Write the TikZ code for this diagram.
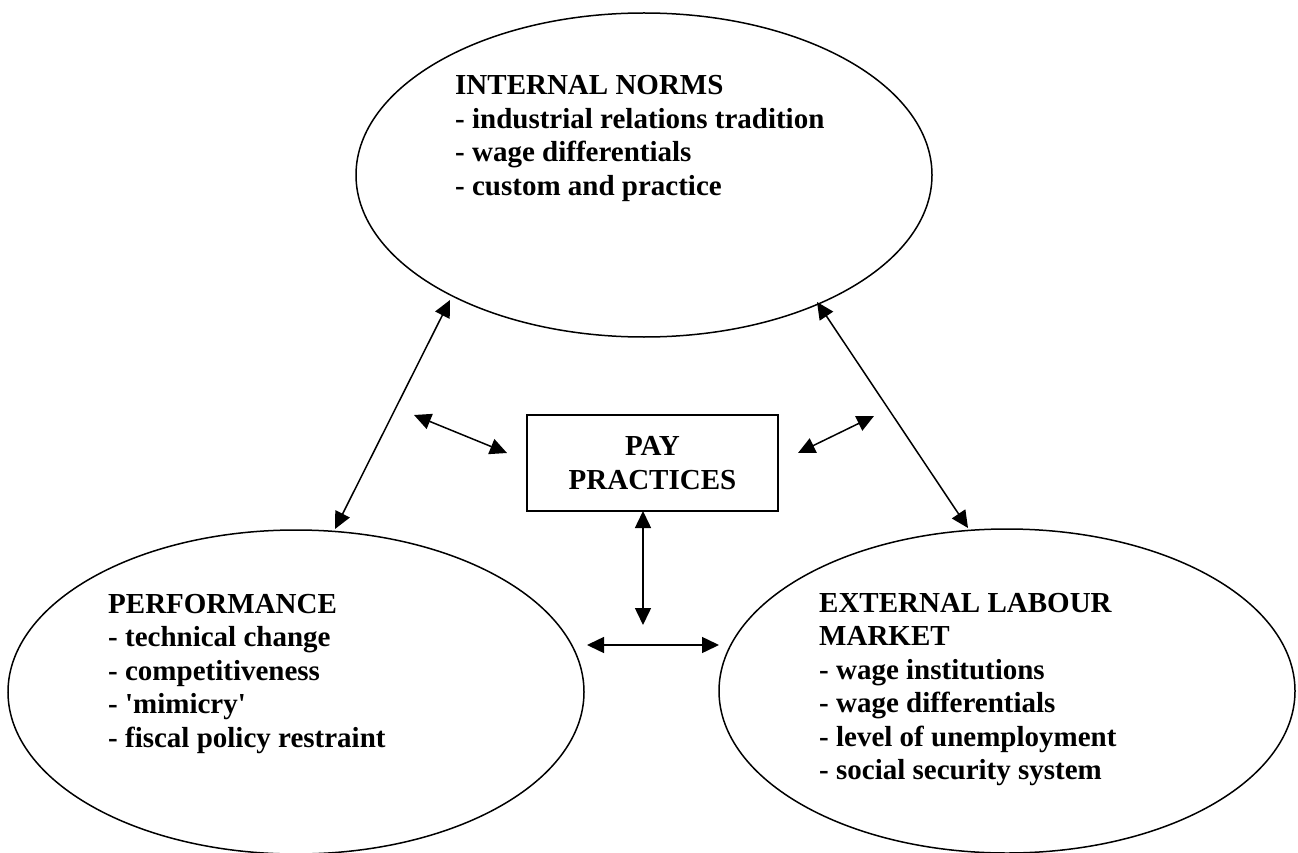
\documentclass[tikz,border=0pt]{standalone}
\usepackage{fontspec}
\setmainfont{Liberation Serif}
\usetikzlibrary{arrows.meta,shapes.geometric}
\begin{document}
\begin{tikzpicture}[x=1pt,y=-1pt,
  ell/.style={draw, ellipse, line width=1.5pt, minimum width=576pt, minimum height=324pt, inner sep=0pt},
  paybox/.style={draw, line width=1.8pt, minimum width=251pt, minimum height=96pt, inner sep=0pt, align=center, font=\bfseries\fontsize{29pt}{33.5pt}\selectfont},
  lbl/.style={anchor=base west, inner sep=0pt, font=\bfseries\fontsize{29pt}{33.5pt}\selectfont},
  link/.style={line width=1.5pt, {Triangle[length=17pt,width=16pt]}-{Triangle[length=17pt,width=16pt]}}
]
\useasboundingbox (0,0) rectangle (1298,853);

% ellipses
\node[ell] (norms) at (644,175) {};
\node[ell] (perf) at (296,692) {};
\node[ell] (market) at (1007,691) {};

% texts in ellipses
\node[lbl] (normstext) at (455,95) {\begin{tabular}[t]{@{}l@{}}INTERNAL NORMS\\- industrial relations tradition\\- wage differentials\\- custom and practice\end{tabular}};
\node[lbl] (perftext) at (108,613) {\begin{tabular}[t]{@{}l@{}}PERFORMANCE\\- technical change\\- competitiveness\\- \textquotesingle mimicry\textquotesingle\\- fiscal policy restraint\end{tabular}};
\node[lbl] (markettext) at (819,612) {\begin{tabular}[t]{@{}l@{}}EXTERNAL LABOUR\\MARKET\\- wage institutions\\- wage differentials\\- level of unemployment\\- social security system\end{tabular}};

% central box
\node[paybox] (pay) at (652.5,463) {PAY\\PRACTICES};

% connector end points
\coordinate (dlA) at (450,300);
\coordinate (dlB) at (335,529);
\coordinate (drA) at (817,302);
\coordinate (drB) at (968,528);
\coordinate (lA) at (414,415);
\coordinate (lB) at (507,453);
\coordinate (rA) at (874,416);
\coordinate (rB) at (798,453);
\coordinate (vA) at (643,511);
\coordinate (vB) at (643,625);
\coordinate (hA) at (587,645);
\coordinate (hB) at (719,645);

\draw[link] (dlA) -- (dlB);
\draw[link] (drA) -- (drB);
\draw[link] (lA) -- (lB);
\draw[link] (rA) -- (rB);
\draw[link] (vA) -- (vB);
\draw[link] (hA) -- (hB);
\end{tikzpicture}
\end{document}
